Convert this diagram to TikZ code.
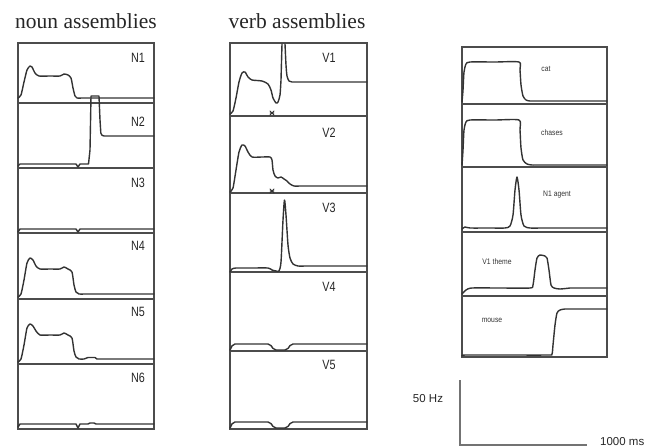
\documentclass[tikz,border=0pt]{standalone}
\usepackage{fontspec}
\setmainfont{Liberation Serif}
\setsansfont{Liberation Sans}
\begin{document}
\begin{tikzpicture}[x=1pt,y=-1pt,
  frame/.style={draw=black!70, line width=1.3pt},
  trace/.style={draw=black!80, line width=1.4pt, line join=round, line cap=round},
  title/.style={font=\fontsize{21.5}{23}\selectfont, inner sep=0pt, text=black!85},
  plab/.style={font=\sffamily\fontsize{13.5}{14}\selectfont, inner sep=0pt, text=black!85, xscale=0.8},
  slab/.style={font=\sffamily\fontsize{8}{9}\selectfont, inner sep=0pt, text=black!80, xscale=0.85},
  scalelab/.style={font=\sffamily\fontsize{11.5}{13}\selectfont, inner sep=0pt, text=black!85}]
\useasboundingbox (0,0) rectangle (652,447);

% titles
\node[title] (tn) at (86,21) {noun assemblies};
\node[title] (tv) at (297,21) {verb assemblies};

% ---------- noun column ----------
\draw[frame] (18,43) rectangle (154,429);
\foreach \y in {103,168,233,299,364} \draw[frame] (18,\y) -- (154,\y);
\node[plab] (n1) at (138,58) {N1};
\node[plab] (n2) at (138,122) {N2};
\node[plab] (n3) at (138,183) {N3};
\node[plab] (n4) at (138,246) {N4};
\node[plab] (n5) at (138,312) {N5};
\node[plab] (n6) at (138,378) {N6};

% N1
\draw[trace] plot[smooth,tension=0.4] coordinates {(18,98) (21,95) (24,82) (27,70) (30,66) (32,67) (35,73) (39,76) (50,76) (60,76) (64,74) (68,75) (71,78) (73,88) (75,96) (77,98) (82,98)} -- (154,98);
% N2
\draw[trace] (18,166) -- (20,164) -- (76,164) -- (78,167) -- (80,164) -- (88.5,164) -- (90,150) -- (91,96) -- (99,96) -- (100,120) [rounded corners=3pt] -- (101,136) -- (154,136);
% N3
\draw[trace] (18,232) -- (20,229) -- (76,229) -- (78,232) -- (80,229) -- (154,229);
% N4
\draw[trace] plot[smooth,tension=0.4] coordinates {(18,297) (21,294) (24,280) (27,263) (30,258) (33,260) (36,266) (40,269) (50,269) (60,269) (64,267) (68,269) (72,272) (74,285) (76,292) (79,294) (84,294)} -- (154,294);
% N5
\draw[trace] plot[smooth,tension=0.4] coordinates {(18,362) (21,359) (24,345) (27,328) (30,324) (33,326) (36,331) (40,335) (50,335) (60,335) (64,333) (68,335) (72,338) (74,351) (76,357) (79,359) (84,359)} -- (88,357.5) -- (95,357.5) -- (97,359) -- (154,359);
% N6
\draw[trace] (18,427) -- (20,424) -- (76,424) -- (78,428) -- (80,424) -- (88,424) -- (90,423) -- (94,423) -- (96,424) -- (154,424);

% ---------- verb column ----------
\draw[frame] (230,43) rectangle (367,429);
\foreach \y in {116,193,272,351} \draw[frame] (230,\y) -- (367,\y);
\node[plab] (v1) at (329,58) {V1};
\node[plab] (v2) at (329,133) {V2};
\node[plab] (v3) at (329,208) {V3};
\node[plab] (v4) at (329,287) {V4};
\node[plab] (v5) at (329,365) {V5};

% V1
\draw[trace] plot[smooth,tension=0.4] coordinates {(230,114) (233,111) (236,98) (239,82) (242,73) (245,72) (248,77) (252,80) (262,81) (268,84) (271,90) (273,98) (276,103) (278,102) (280,95) (281,80)} -- (282,44) (285,44) -- plot[smooth,tension=0.4] coordinates {(285,44) (286,65) (287,76) (289,81) (292,82) (300,82)} -- (367,82);
\draw[trace, line width=0.9pt] (270,111) -- (274,115) (270,115) -- (274,111) (270,113) -- (274,113);
% V2
\draw[trace] plot[smooth,tension=0.4] coordinates {(230,192) (233,188) (236,170) (239,152) (242,145) (245,146) (248,152) (252,157) (262,157) (270,157) (272,160) (273,170) (275,176) (278,178) (281,177) (284,179) (287,181) (290,184) (294,186) (300,186)} -- (367,186);
\draw[trace, line width=0.9pt] (270,189) -- (274,193) (270,193) -- (274,189) (270,191) -- (274,191);
% V3
\draw[trace] plot[smooth,tension=0.4] coordinates {(230,272) (232,269) (236,268) (252,268) (268,268) (272,270) (276,271) (279,271) (281,262) (283,220) (284.5,200) (286,215) (288,245) (290,258) (293,264) (298,266) (305,266)} -- (367,266);
% V4
\draw[trace] (230,350) [rounded corners=2pt] -- (233,344) -- (270,344) -- (274,350) -- (287,350) -- (291,344) [sharp corners] -- (367,344);
% V5
\draw[trace] (230,428) [rounded corners=2pt] -- (233,422) -- (270,422) -- (274,428) -- (287,428) -- (291,422) [sharp corners] -- (367,422);

% ---------- right column ----------
\draw[frame] (462,47) rectangle (607,357);
\foreach \y in {104,167,232,296} \draw[frame] (462,\y) -- (607,\y);
\node[slab] (cat) at (546,69) {cat};
\node[slab] (chases) at (552,133) {chases};
\node[slab] (agent) at (557,195) {N1 agent};
\node[slab] (theme) at (497,262) {V1 theme};
\node[slab] (mouse) at (492,320) {mouse};

% cat
\draw[trace] plot[smooth,tension=0.4] coordinates {(462,102) (463,90) (464,72) (466,64) (470,62) (495,62) (519,62) (520,70) (521,85) (523,96) (526,100) (530,101) (540,101)} -- (607,101);
% chases
\draw[trace] plot[smooth,tension=0.4] coordinates {(462,165) (463,150) (464,130) (466,122) (470,120) (495,120) (519,120) (520,130) (521,148) (523,160) (527,164) (532,165) (540,165)} -- (607,165);
% N1 agent
\draw[trace] plot[smooth,tension=0.4] coordinates {(462,229) (465,227) (470,228) (490,228) (505,228) (510,226) (513,215) (515,190) (517,177) (519,190) (521,215) (524,226) (530,228) (540,228)} -- (607,228);
% V1 theme
\draw[trace] plot[smooth,tension=0.4] coordinates {(462,294) (466,290) (472,288) (500,288) (530,288) (533,285) (535,270) (537,258) (540,255) (545,256) (547,258) (549,270) (551,285) (554,288) (560,289) (570,288)} -- (607,288);
% mouse
\draw[trace] plot[smooth,tension=0.4] coordinates {(462,356) (465,355) (500,355) (548,355) (552,354) (553,345) (555,325) (557,313) (560,310) (565,309) (575,309)} -- (607,309);

% ---------- scale bar ----------
\coordinate (sbtop) at (460,380);
\coordinate (sbcorner) at (460,445);
\coordinate (sbright) at (587,445);
\draw[black!55, line width=1.2pt] (sbtop) -- (sbcorner) -- (sbright);
\node[scalelab] (hz) at (428,399) {50 Hz};
\node[scalelab, anchor=west] (ms) at (600,442) {1000 ms};
\end{tikzpicture}
\end{document}
